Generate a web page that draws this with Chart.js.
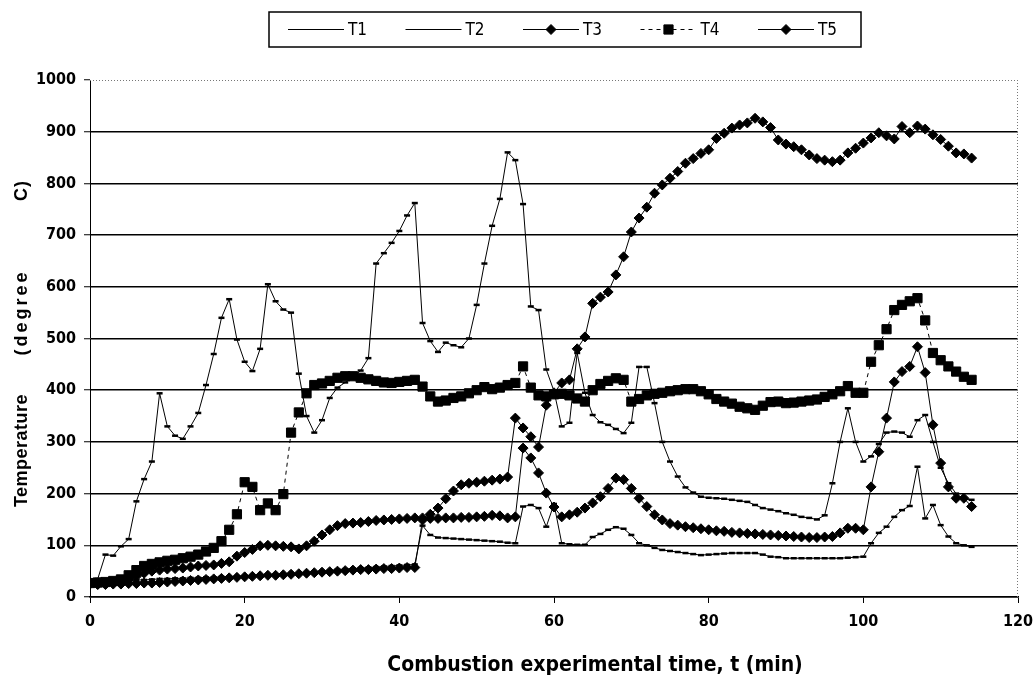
<!DOCTYPE html>
<html>
<head>
<meta charset="utf-8">
<title>Combustion temperatures T1-T5</title>
<script src="https://cdn.jsdelivr.net/npm/chart.js@4.4.1/dist/chart.umd.min.js"></script>
<style>
  html, body { margin: 0; padding: 0; background: #fff; }
  #wrap { width: 1033px; height: 684px; }
</style>
</head>
<body>
<div id="wrap"><canvas id="chart" width="1033" height="684"></canvas></div>
<script>
// time in minutes, one reading per minute
const times = [
  0, 1, 2, 3, 4, 5, 6, 7, 8, 9,
  10, 11, 12, 13, 14, 15, 16, 17, 18, 19,
  20, 21, 22, 23, 24, 25, 26, 27, 28, 29,
  30, 31, 32, 33, 34, 35, 36, 37, 38, 39,
  40, 41, 42, 43, 44, 45, 46, 47, 48, 49,
  50, 51, 52, 53, 54, 55, 56, 57, 58, 59,
  60, 61, 62, 63, 64, 65, 66, 67, 68, 69,
  70, 71, 72, 73, 74, 75, 76, 77, 78, 79,
  80, 81, 82, 83, 84, 85, 86, 87, 88, 89,
  90, 91, 92, 93, 94, 95, 96, 97, 98, 99,
  100, 101, 102, 103, 104, 105, 106, 107, 108, 109,
  110, 111, 112, 113, 114
];

const t1 = [
  30, 35, 82, 80, 98, 112, 185, 228, 262, 394,
  330, 312, 306, 330, 356, 410, 470, 540, 576, 498,
  455, 437, 480, 605, 572, 556, 550, 432, 350, 318,
  342, 385, 405, 415, 425, 438, 462, 645, 665, 685,
  708, 738, 762, 530, 495, 474, 492, 487, 483, 500,
  565, 645, 718, 770, 860, 845, 760, 562, 555, 440,
  398, 330, 337, 472, 395, 352, 338, 333, 325, 317,
  337, 445, 445, 375, 300, 262, 233, 212, 202, 194,
  192, 191, 190, 188, 186, 184, 178, 172, 169, 166,
  162, 159, 155, 153, 150, 158, 220, 300, 365, 300,
  262, 272, 296, 318, 320, 318, 310, 342, 352, 300,
  250, 220, 200, 190, 188
];

const t2 = [
  30, 30, 31, 31, 32, 32, 33, 33, 34, 35,
  35, 36, 36, 37, 37, 38, 38, 39, 39, 40,
  40, 41, 41, 42, 43, 44, 45, 46, 47, 48,
  50, 51, 53, 54, 55, 56, 57, 58, 59, 60,
  61, 62, 63, 138, 120, 115, 114, 113, 112, 111,
  110, 109, 108, 107, 105, 104, 175, 178, 172, 136,
  180, 104, 102, 101, 101, 116, 122, 130, 135, 132,
  120, 104, 100, 95, 91, 89, 87, 85, 83, 81,
  82, 83, 84, 85, 85, 85, 85, 82, 78, 77,
  75, 75, 75, 75, 75, 75, 75, 75, 76, 77,
  78, 104, 124, 136, 155, 168, 176, 252, 152, 178,
  139, 117, 104, 100, 97
];

const t3 = [
  25, 24, 24, 25, 25, 26, 26, 27, 27, 28,
  29, 30, 31, 32, 33, 34, 35, 36, 37, 38,
  39, 40, 41, 42, 42, 43, 44, 45, 46, 47,
  48, 49, 50, 51, 52, 53, 53, 54, 55, 55,
  56, 57, 57, 149, 152, 152, 153, 153, 154, 154,
  155, 156, 158, 157, 153, 155, 288, 269, 240, 201,
  174, 155, 159, 164, 172, 182, 194, 210, 230, 227,
  210, 191, 175, 159, 149, 142, 139, 136, 134, 132,
  130, 128, 127, 125, 124, 123, 122, 121, 120, 119,
  118, 117, 116, 115, 115, 116, 117, 124, 133, 133,
  130, 213, 281, 346, 416, 436, 446, 484, 434, 333,
  259, 213, 191, 191, 175
];

const t4 = [
  27, 28, 29, 31, 34, 42, 52, 60, 64, 67,
  70, 72, 75, 78, 82, 88, 95, 108, 130, 160,
  222, 213, 168, 181, 168, 199, 318, 357, 394, 410,
  413, 418, 424, 427, 427, 424, 421, 418, 415, 414,
  416, 418, 420, 407, 388, 378, 380, 385, 388, 394,
  400, 406, 402, 405, 410, 414, 446, 405, 390, 388,
  392, 393, 390, 384, 378, 400, 412, 418, 423, 420,
  378, 383, 390, 393, 395, 398, 400, 402, 402, 398,
  392, 383, 378, 374, 368, 365, 362, 370, 377, 378,
  375, 376, 378, 380, 382, 387, 392, 398, 408, 395,
  395, 455, 487, 518, 555, 565, 572, 578, 535, 472,
  458, 446, 436, 426, 420
];

const t5 = [
  25, 25, 26, 28, 30, 33, 40, 46, 50, 52,
  54, 55, 56, 58, 60, 61, 62, 65, 68, 79,
  86, 92, 99, 100, 99, 98, 97, 93, 99, 108,
  120, 130, 138, 142, 143, 144, 146, 148, 149, 150,
  151, 152, 153, 153, 160, 172, 190, 205, 217, 220,
  222, 224, 226, 228, 232, 346, 327, 310, 290, 371,
  395, 414, 420, 480, 503, 568, 580, 590, 623, 658,
  706, 733, 754, 781, 797, 810, 823, 839, 848, 858,
  865, 887, 897, 907, 913, 917, 926, 919, 908, 884,
  876, 871, 865, 855, 848, 845, 842, 845, 859, 868,
  878, 888, 898, 892, 886, 910, 898, 911, 905, 894,
  885, 872, 859, 857, 849
];

const seriesNames = ['T1', 'T2', 'T3', 'T4', 'T5'];
const seriesValues = [t1, t2, t3, t4, t5];
const xTicks = [0, 20, 40, 60, 80, 100, 120];
const yTicks = [0, 100, 200, 300, 400, 500, 600, 700, 800, 900, 1000];
const xTitle = 'Combustion experimental time, t (min)';
const yTitleParts = ['Temperature', '(degree', 'C)'];

const NARROW = '"Liberation Sans Narrow", "DejaVu Sans Condensed", "Arial Narrow", sans-serif';
const WIDE = '"Liberation Sans", Arial, sans-serif';

// marker look per series
const looks = [
  { pointStyle: 'line',    pointRadius: 3,   pointBorderWidth: 2.5, borderDash: [] },
  { pointStyle: 'line',    pointRadius: 3,   pointBorderWidth: 2.5, borderDash: [] },
  { pointStyle: 'rectRot', pointRadius: 5,   pointBorderWidth: 1,   borderDash: [] },
  { pointStyle: 'rect',    pointRadius: 6.5, pointBorderWidth: 1,   borderDash: [4, 4] },
  { pointStyle: 'rectRot', pointRadius: 5,   pointBorderWidth: 1,   borderDash: [] }
];

const datasets = seriesNames.map((name, i) => ({
  label: name,
  data: seriesValues[i].map((v, k) => ({ x: times[k], y: v })),
  borderColor: '#000',
  backgroundColor: '#000',
  pointBackgroundColor: '#000',
  pointBorderColor: '#000',
  borderWidth: 1,
  tension: 0,
  fill: false,
  pointHoverRadius: looks[i].pointRadius,
  ...looks[i]
}));

// boxed legend at the top, line sample with marker in the middle
const boxLegend = {
  id: 'boxLegend',
  afterDraw(chart) {
    const ctx = chart.ctx;
    const left = 269, top = 12, w = 592, h = 35;
    const y = top + h / 2;
    ctx.save();
    ctx.strokeStyle = '#000';
    ctx.fillStyle = '#000';
    ctx.lineWidth = 1.5;
    ctx.strokeRect(left, top, w, h);
    ctx.font = '17px ' + NARROW;
    ctx.textBaseline = 'middle';
    ctx.textAlign = 'left';
    chart.data.datasets.forEach((ds, i) => {
      const x0 = left + 19 + i * 117.5;
      ctx.lineWidth = 1;
      ctx.setLineDash(ds.borderDash || []);
      ctx.beginPath();
      ctx.moveTo(x0, y);
      ctx.lineTo(x0 + 56, y);
      ctx.stroke();
      ctx.setLineDash([]);
      Chart.helpers.drawPoint(ctx, {
        pointStyle: ds.pointStyle,
        radius: ds.pointRadius,
        borderWidth: ds.pointBorderWidth,
        rotation: 0
      }, x0 + 28, y);
      ctx.fillText(ds.label, x0 + 60, y + 1);
    });
    ctx.restore();
  }
};

// dotted top / right frame, axis captions
const frame = {
  id: 'frame',
  beforeDatasetsDraw(chart) {
    const { ctx, chartArea: a } = chart;
    ctx.save();
    ctx.strokeStyle = '#777';
    ctx.lineWidth = 1;
    ctx.setLineDash([1, 2]);
    ctx.beginPath();
    ctx.moveTo(a.left, a.top + 0.5);
    ctx.lineTo(a.right, a.top + 0.5);
    ctx.moveTo(a.right - 0.5, a.top);
    ctx.lineTo(a.right - 0.5, a.bottom);
    ctx.stroke();
    ctx.restore();
  },
  afterDraw(chart) {
    const { ctx, chartArea: a } = chart;
    ctx.save();
    ctx.fillStyle = '#000';
    ctx.font = 'bold 21px ' + NARROW;
    ctx.textAlign = 'center';
    ctx.textBaseline = 'middle';
    ctx.fillText(xTitle, 595, 666);

    // the vertical caption is widely spaced in the source, draw word by word
    const cy = (a.top + a.bottom) / 2;
    ctx.translate(22, cy);
    ctx.rotate(-Math.PI / 2);
    ctx.font = 'bold 18px ' + WIDE;
    const offsets = [-112, 26, 148];
    const spacing = ['0.5px', '3px', '1px'];
    yTitleParts.forEach((word, i) => {
      if ('letterSpacing' in ctx) ctx.letterSpacing = spacing[i];
      ctx.fillText(word, offsets[i], 0);
    });
    ctx.restore();
  }
};

new Chart(document.getElementById('chart'), {
  type: 'line',
  data: { datasets },
  options: {
    responsive: false,
    animation: false,
    devicePixelRatio: 1,
    layout: { padding: { top: 80, right: 15, left: 0, bottom: 0 } },
    plugins: {
      legend: { display: false },
      tooltip: { enabled: false }
    },
    scales: {
      x: {
        type: 'linear',
        min: xTicks[0],
        max: xTicks[xTicks.length - 1],
        afterFit: s => { s.height = 87; s.paddingLeft = 0; s.paddingRight = 0; },
        ticks: {
          stepSize: xTicks[1] - xTicks[0],
          color: '#000',
          padding: 9,
          callback: v => String(v),
          font: { family: NARROW, size: 16, weight: 'bold' }
        },
        grid: {
          drawOnChartArea: false,
          drawTicks: true,
          tickLength: 6,
          tickColor: '#000',
          tickWidth: 1
        },
        border: { display: true, color: '#000', width: 1.5 }
      },
      y: {
        min: yTicks[0],
        max: yTicks[yTicks.length - 1],
        afterFit: s => { s.width = 90; },
        ticks: {
          stepSize: yTicks[1] - yTicks[0],
          color: '#000',
          padding: 8,
          callback: v => String(v),
          font: { family: NARROW, size: 16, weight: 'bold' }
        },
        grid: {
          color: c => (c.tick && c.tick.value === yTicks[yTicks.length - 1]) ? 'rgba(0,0,0,0)' : '#000',
          lineWidth: 1.5,
          drawTicks: true,
          tickLength: 6,
          tickColor: '#000',
          tickWidth: 1
        },
        border: { display: true, color: '#000', width: 1 }
      }
    }
  },
  plugins: [boxLegend, frame]
});
</script>
</body>
</html>
